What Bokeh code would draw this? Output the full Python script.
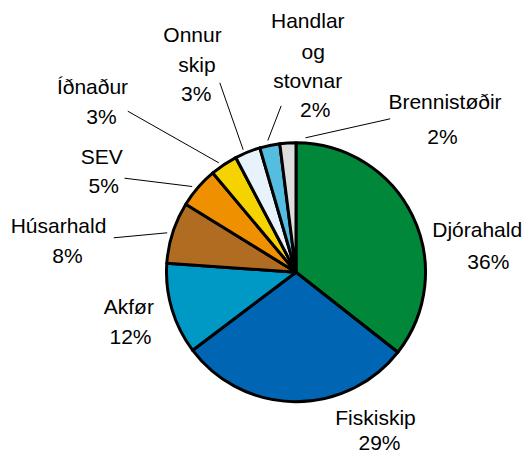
import math
from bokeh.plotting import figure
from bokeh.models import Range1d, ColumnDataSource
from bokeh.core.properties import value
from bokeh.embed import file_html
from bokeh.resources import INLINE

# ---- data (clockwise from 12 o'clock) ----
categories = ["Djórahald", "Fiskiskip", "Akfør", "Húsarhald", "SEV",
              "Íðnaður", "Onnur skip", "Handlar og stovnar", "Brennistøðir"]
shares = [35.6, 29.1, 11.4, 7.7, 5.1, 3.4, 3.2, 2.5, 2.0]
pct_labels = ["36%", "29%", "12%", "8%", "5%", "3%", "3%", "2%", "2%"]
colors = ["#00873A", "#0066B3", "#0099C6", "#B06D22", "#EE9000",
          "#F5D300", "#E8F2FA", "#55BDE0", "#DDDDDD"]

# ---- layout (image pixel coords, y downward) ----
W, H = 524, 455
cx, cy, R = 295.5, 271.7, 129.5
TEXT_SHIFT = 8.0

# label lines: (text, center x, baseline y)
label_lines = [
    ("Djórahald", 476.7, 236.7), ("36%", 487.8, 269.3),
    ("Fiskiskip", 375.0, 424.5), ("29%", 379.0, 450.0),
    ("Akfør", 128.3, 314.0), ("12%", 130.0, 344.3),
    ("Húsarhald", 58.0, 233.3), ("8%", 67.0, 263.3),
    ("SEV", 101.3, 164.3), ("5%", 103.3, 192.7),
    ("Íðnaður", 92.0, 94.3), ("3%", 101.0, 124.0),
    ("Onnur", 192.0, 42.3), ("skip", 196.5, 71.7), ("3%", 195.8, 100.7),
    ("Handlar", 307.3, 28.3), ("og", 312.8, 58.5), ("stovnar", 307.2, 88.3), ("2%", 314.7, 116.7),
    ("Brennistøðir", 444.5, 109.3), ("2%", 442.0, 144.3),
]
# leader lines: (x0, y0, x1, y1)
leaders = [
    (389.7, 118.3, 305.0, 137.3),
    (280.7, 105.3, 267.3, 140.0),
    (219.3, 82.3, 242.7, 149.3),
    (127.3, 110.7, 218.3, 162.3),
    (124.0, 177.7, 191.7, 186.0),
    (113.3, 237.3, 166.7, 232.3),
]

def fy(y):
    return H - y

# ---- wedge angles from data ----
total = sum(shares)
starts, ends = [], []
cum = 0.0
for s in shares:
    a0 = math.pi / 2 - 2 * math.pi * cum / total
    cum += s
    a1 = math.pi / 2 - 2 * math.pi * cum / total
    starts.append(a1)
    ends.append(a0)

src = ColumnDataSource(dict(cat=categories, share=shares, start=starts, end=ends, color=colors))

p = figure(width=W, height=H, output_backend="svg", toolbar_location=None,
           x_range=Range1d(0, W), y_range=Range1d(0, H), min_border=0)
p.axis.visible = False
p.grid.visible = False
p.outline_line_color = None
p.background_fill_color = "white"
p.border_fill_color = "white"

p.wedge(x=cx, y=fy(cy), radius=R, start_angle="start", end_angle="end", direction="anticlock",
        fill_color="color", line_color="black", line_width=3, line_join="round", source=src)

p.segment(x0=[l[0] for l in leaders], y0=[fy(l[1]) for l in leaders],
          x1=[l[2] for l in leaders], y1=[fy(l[3]) for l in leaders],
          line_color="black", line_width=1)

p.text(x=[t[1] for t in label_lines], y=[fy(t[2] - TEXT_SHIFT) for t in label_lines],
       text=[t[0] for t in label_lines], text_align="center", text_baseline="alphabetic",
       text_font=value("Liberation Sans"), text_font_size="21px", text_color="black")

open("out.html", "w").write(file_html(p, INLINE))
